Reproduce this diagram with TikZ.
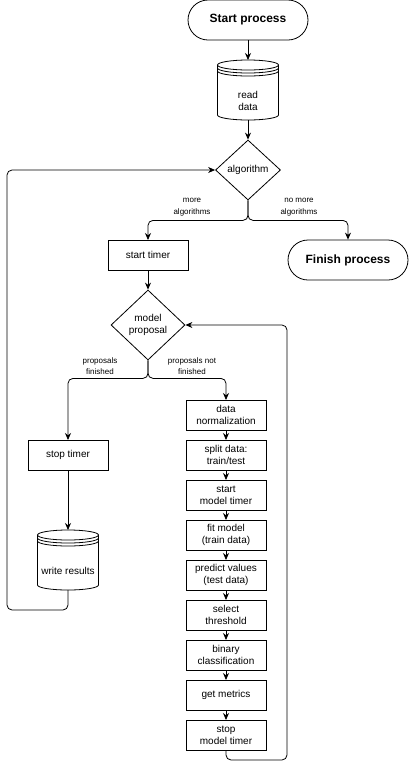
\documentclass[tikz,border=0pt]{standalone}
\usepackage{fontspec}
\setmainfont{Liberation Sans}
\usetikzlibrary{shapes.geometric, arrows.meta, positioning}

% data store drawn around an empty node
\newcommand{\drawstore}[1]{%
  \draw ([yshift=-5pt]#1.north west) -- ([yshift=5pt]#1.south west)
    arc[start angle=180, end angle=360, x radius=30.5pt, y radius=5pt]
    -- ([yshift=-5pt]#1.north east);
  \draw ([yshift=-5pt]#1.north) ellipse[x radius=30.5pt, y radius=5pt];
  \draw ([yshift=-8pt]#1.north west)
    arc[start angle=180, end angle=360, x radius=30.5pt, y radius=5pt];
  \draw ([yshift=-11pt]#1.north west)
    arc[start angle=180, end angle=360, x radius=30.5pt, y radius=5pt];
}

\begin{document}
\begin{tikzpicture}[x=1pt, y=1pt, line width=0.8pt,
    >={Stealth[length=7pt, width=6pt]},
    box/.style={draw, minimum width=80pt, minimum height=30pt, inner sep=1pt,
      outer sep=0pt, align=center, font=\fontsize{10}{12}\selectfont},
    term/.style={draw, rounded corners=20pt, minimum width=120pt,
      minimum height=40pt, font=\fontsize{12}{14}\selectfont\bfseries},
    choice/.style={draw, diamond, inner sep=0pt, align=center,
      font=\fontsize{10}{12}\selectfont},
    store/.style={minimum width=61pt, minimum height=60pt, inner sep=0pt,
      outer sep=0pt},
    storetext/.style={yshift=-11pt, align=center,
      font=\fontsize{10}{12}\selectfont},
    edgetext/.style={align=center, font=\fontsize{8}{11.5}\selectfont},
    flow/.style={->, rounded corners=5pt}]
  \useasboundingbox (0,0) rectangle (410,-769);

  \node[term] (start) at (248,-20) {Start process};
  \node[store, label={[storetext]center:{read\\data}}] (read) at (248,-90) {};
  \drawstore{read}
  \node[choice, minimum width=65pt, minimum height=60pt] (alg) at (248,-170) {algorithm};
  \node[box] (timer) at (148,-255) {start timer};
  \node[term] (finish) at (348,-260) {Finish process};
  \node[choice, minimum width=74pt, minimum height=70pt] (prop) at (148,-325) {model\\proposal};
  \node[box] (stop) at (68,-455) {stop timer};
  \node[store, label={[storetext]center:{write results}}] (write) at (68,-560) {};
  \drawstore{write}

  % inner loop
  \node[box] (norm) at (226,-415) {data\\normalization};
  \node[box, below=10pt of norm] (split) {split data:\\train/test};
  \node[box, below=10pt of split] (mstart) {start\\model timer};
  \node[box, below=10pt of mstart] (fit) {fit model\\(train data)};
  \node[box, below=10pt of fit] (pred) {predict values\\(test data)};
  \node[box, below=10pt of pred] (thr) {select\\threshold};
  \node[box, below=10pt of thr] (bin) {binary\\classification};
  \node[box, below=10pt of bin] (metr) {get metrics};
  \node[box, below=10pt of metr] (mstop) {stop\\model timer};

  \node[edgetext] (lmore) at (192,-207) {more\\algorithms};
  \node[edgetext] (lnomore) at (299,-207) {no more\\algorithms};
  \node[edgetext] (ldone) at (100,-366) {proposals\\finished};
  \node[edgetext] (lnotdone) at (192,-366) {proposals not\\finished};

  \draw[->] (start) -- (read);
  \draw[->] (read) -- (alg);
  \draw[flow] (alg.south) -- ++(0,-20) -| (timer.north);
  \draw[flow] (alg.south) -- ++(0,-20) -| (finish.north);
  \draw[->] (timer) -- (prop);
  \draw[flow] (prop.south) -- ++(0,-18) -| (stop.north);
  \draw[flow] (prop.south) -- ++(0,-18) -| (norm.north);
  \draw[->] (stop) -- (write);
  \draw[->] (norm) -- (split);
  \draw[->] (split) -- (mstart);
  \draw[->] (mstart) -- (fit);
  \draw[->] (fit) -- (pred);
  \draw[->] (pred) -- (thr);
  \draw[->] (thr) -- (bin);
  \draw[->] (bin) -- (metr);
  \draw[->] (metr) -- (mstop);

  % loops back
  \coordinate (backL) at (7,-610);
  \draw[flow] (write.south) |- (backL) |- (alg.west);
  \coordinate (backR) at (287,-760);
  \draw[flow] (mstop.south) |- (backR) |- (prop.east);
\end{tikzpicture}
\end{document}
